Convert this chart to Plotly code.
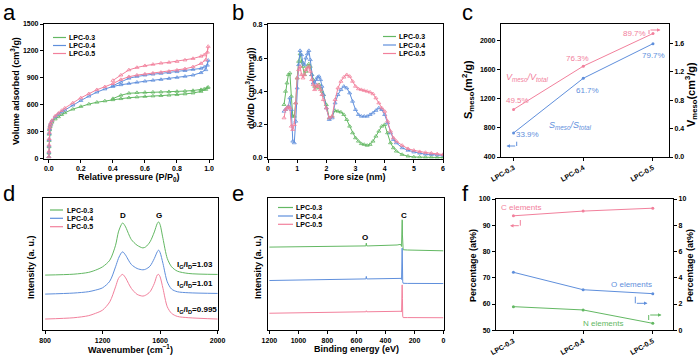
import plotly.graph_objects as go

# ---------------- data ----------------
SAMPLES = ["LPC-0.3", "LPC-0.4", "LPC-0.5"]

# (a) N2 isotherms
P_ADS = [0.0005, 0.001, 0.0015, 0.002, 0.003, 0.005, 0.008, 0.012, 0.02, 0.04, 0.06, 0.08, 0.1,
         0.15, 0.2, 0.25, 0.3, 0.35, 0.4, 0.45, 0.5, 0.55, 0.6, 0.65, 0.7, 0.75, 0.8, 0.85, 0.9,
         0.95, 0.98, 0.995]
V_ADS_03 = [15, 60, 130, 200, 270, 320, 355, 380, 405, 440, 465, 490, 510, 550, 580, 607, 627, 642,
            655, 667, 678, 686, 692, 697, 701, 706, 712, 720, 730, 748, 770, 795]
V_ADS_04 = [20, 70, 140, 210, 280, 330, 365, 390, 420, 465, 495, 520, 540, 595, 646, 695, 740, 775,
            803, 822, 837, 850, 862, 872, 881, 892, 904, 916, 930, 957, 990, 1095]
V_ADS_05 = [20, 80, 150, 220, 290, 340, 370, 395, 425, 475, 505, 535, 562, 620, 676, 722, 767, 800,
            835, 880, 912, 930, 942, 952, 961, 972, 985, 1000, 1022, 1060, 1100, 1250]
P_DES = [0.99, 0.97, 0.95, 0.9, 0.85, 0.8, 0.75, 0.7, 0.65, 0.6, 0.55, 0.5, 0.45, 0.4]
V_DES_03 = [790, 775, 768, 758, 752, 748, 745, 742, 740, 738, 735, 728, 705, 668]
V_DES_04 = [1040, 1020, 1005, 993, 980, 968, 958, 949, 940, 930, 915, 895, 850, 812]
V_DES_05 = [1185, 1155, 1140, 1115, 1098, 1082, 1072, 1063, 1050, 1035, 1015, 988, 930, 870]

# (b) pore size distribution
PORE = [0.55, 0.6, 0.65, 0.7, 0.75, 0.8, 0.85, 0.9, 0.95, 1.0,
        1.05, 1.1, 1.15, 1.2, 1.25, 1.3, 1.35, 1.4, 1.45, 1.5,
        1.55, 1.6, 1.65, 1.7, 1.75, 1.8, 1.85, 1.9, 2.0, 2.1,
        2.2, 2.3, 2.4, 2.5, 2.6, 2.7, 2.8, 2.9, 3.0, 3.1,
        3.2, 3.3, 3.4, 3.5, 3.6, 3.7, 3.8, 3.9, 4.0, 4.1,
        4.2, 4.3, 4.4, 4.6, 4.8, 5.0, 5.2, 5.4, 5.6, 5.8,
        6.0]
DV_03 = [0.32, 0.40, 0.45, 0.50, 0.51, 0.37, 0.25, 0.25, 0.33, 0.48,
         0.58, 0.625, 0.58, 0.55, 0.50, 0.52, 0.55, 0.565, 0.55, 0.50,
         0.47, 0.43, 0.42, 0.43, 0.44, 0.42, 0.40, 0.38, 0.32, 0.24,
         0.25, 0.285, 0.28, 0.275, 0.26, 0.23, 0.19, 0.15, 0.12, 0.10,
         0.085, 0.08, 0.075, 0.08, 0.10, 0.13, 0.16, 0.19, 0.20, 0.15,
         0.09, 0.06, 0.04, 0.02, 0.01, 0.005, 0.004, 0.003, 0.003, 0.002,
         0.002]
DV_04 = [0.28, 0.29, 0.30, 0.31, 0.36, 0.29, 0.10, 0.09, 0.22, 0.42,
         0.56, 0.645, 0.62, 0.57, 0.56, 0.60, 0.625, 0.645, 0.59, 0.50,
         0.45, 0.45, 0.47, 0.485, 0.49, 0.47, 0.43, 0.38, 0.30, 0.23,
         0.24, 0.33, 0.38, 0.41, 0.43, 0.42, 0.39, 0.34, 0.29, 0.26,
         0.25, 0.25, 0.25, 0.26, 0.27, 0.285, 0.30, 0.29, 0.26, 0.21,
         0.15, 0.11, 0.09, 0.06, 0.045, 0.035, 0.028, 0.022, 0.02, 0.017,
         0.015]
DV_05 = [0.24, 0.29, 0.30, 0.31, 0.30, 0.19, 0.17, 0.20, 0.33, 0.48,
         0.53, 0.55, 0.50, 0.48, 0.50, 0.53, 0.54, 0.55, 0.52, 0.47,
         0.44, 0.41, 0.43, 0.44, 0.43, 0.41, 0.38, 0.35, 0.30, 0.24,
         0.25, 0.35, 0.42, 0.46, 0.485, 0.50, 0.49, 0.46, 0.43, 0.415,
         0.41, 0.405, 0.40, 0.395, 0.385, 0.36, 0.33, 0.30, 0.28, 0.22,
         0.16, 0.12, 0.10, 0.075, 0.055, 0.045, 0.037, 0.032, 0.028, 0.024,
         0.02]

# (c) mesopore area / volume
S_MESO = [731, 1483, 1959]
V_MESO = [0.67, 1.28, 1.74]
S_RATIO = ["33.9%", "61.7%", "79.7%"]
V_RATIO = ["49.5%", "76.3%", "89.7%"]

# (d) Raman
WAVENUM = [800, 1000, 1100, 1150, 1200, 1250, 1290, 1310, 1330, 1340, 1360, 1380, 1400, 1440,
           1480, 1500, 1530, 1560, 1580, 1590, 1600, 1620, 1650, 1680, 1720, 1800, 2000]
RAMAN_03 = [41.6, 42.3, 43.6, 45.3, 47.9, 52.9, 64.2, 74.3, 79.8, 81.1, 78.1, 73.0, 68.5, 64.2,
            62.2, 63.0, 66.8, 74.3, 80.6, 81.9, 79.8, 69.3, 54.2, 47.9, 44.6, 42.8, 42.1]
RAMAN_04 = [27.2, 28.0, 29.0, 30.2, 32.0, 37.0, 47.9, 54.2, 58.4, 59.2, 56.7, 52.9, 49.6, 46.6,
            45.6, 46.1, 48.4, 54.2, 59.2, 60.5, 58.7, 50.4, 36.5, 31.0, 29.0, 28.2, 27.7]
RAMAN_05 = [8.3, 9.3, 10.8, 12.6, 15.1, 21.4, 32.7, 39.0, 41.6, 42.1, 39.5, 35.3, 31.5, 27.0,
            25.7, 26.4, 29.0, 35.3, 41.6, 42.1, 40.3, 31.5, 17.6, 12.6, 10.3, 9.3, 8.3]
IGID = ["1.03", "1.01", "0.995"]

# (e) XPS survey
ENERGY = [1200, 1100, 1000, 900, 800, 700, 600, 545, 535, 532, 529, 520, 450, 400, 350, 320, 300,
          293, 289, 286, 285, 284, 283, 281, 278, 250, 200, 100, 0]
XPS_03 = [62.8, 62.9, 63.0, 63.1, 63.2, 63.4, 63.5, 63.6, 63.7, 65.8, 63.7, 63.7, 63.8, 63.9, 64.1,
          64.4, 64.8, 64.6, 63.3, 72.0, 83.5, 83.0, 72.0, 62.0, 60.8, 60.6, 60.4, 60.2, 60.0]
XPS_04 = [37.5, 37.6, 37.8, 38.0, 38.1, 38.3, 38.5, 38.6, 38.7, 40.6, 38.7, 38.7, 38.8, 38.9, 39.0,
          39.2, 39.3, 39.1, 38.3, 50.0, 62.0, 61.5, 50.0, 36.5, 35.4, 35.3, 35.3, 35.2, 35.2]
XPS_05 = [12.7, 12.8, 13.0, 13.1, 13.3, 13.5, 13.6, 13.7, 13.8, 14.6, 13.8, 13.8, 13.9, 14.0, 14.1,
          14.3, 14.4, 14.2, 13.6, 24.0, 34.2, 33.8, 24.0, 10.5, 9.4, 9.4, 9.3, 9.3, 9.3]

# (f) elemental content
C_AT = [93.6, 95.4, 96.5]
O_AT = [4.42, 3.09, 2.79]
N_AT = [1.80, 1.55, 0.53]

# ---------------- style ----------------
W, H = 700, 359
GREEN = "#63b863"
BLUE = "#5f8fdc"
PINK = "#f2809c"
COLORS = [GREEN, BLUE, PINK]
FONT = "Liberation Sans, Arial, sans-serif"


def px(x):
    return x / W


def py(y):
    return 1 - y / H


def axis(domain, anchor, rng, **kw):
    d = dict(domain=domain, anchor=anchor, range=rng, showline=True, linecolor="black",
             linewidth=1.2, mirror=True, ticks="outside", ticklen=3, tickwidth=1,
             tickcolor="black", showgrid=False, zeroline=False, automargin=False,
             tickfont=dict(family=FONT, size=7, color="black", weight="bold"))
    d.update(kw)
    return d


fig = go.Figure()

# (a)
for vads, vdes, c in zip([V_ADS_03, V_ADS_04, V_ADS_05], [V_DES_03, V_DES_04, V_DES_05], COLORS):
    fig.add_trace(go.Scatter(x=P_ADS + P_DES, y=vads + vdes, mode="lines+markers",
                             line=dict(color=c, width=1),
                             marker=dict(symbol="triangle-up-open", size=3.5, color=c,
                                         line=dict(width=0.8)),
                             xaxis="x", yaxis="y", showlegend=False))
# (b)
for dv, c in zip([DV_03, DV_04, DV_05], COLORS):
    fig.add_trace(go.Scatter(x=PORE, y=dv, mode="lines+markers", line=dict(color=c, width=1),
                             marker=dict(symbol="triangle-up-open", size=3.5, color=c,
                                         line=dict(width=0.8)),
                             xaxis="x2", yaxis="y2", showlegend=False))
# (c)
fig.add_trace(go.Scatter(x=SAMPLES, y=S_MESO, mode="lines+markers", line=dict(color=BLUE, width=1),
                         marker=dict(size=3, color=BLUE), xaxis="x3", yaxis="y3", showlegend=False))
fig.add_trace(go.Scatter(x=SAMPLES, y=V_MESO, mode="lines+markers", line=dict(color=PINK, width=1),
                         marker=dict(size=3, color=PINK), xaxis="x3", yaxis="y4", showlegend=False))
# (d)
for r, c in zip([RAMAN_03, RAMAN_04, RAMAN_05], COLORS):
    fig.add_trace(go.Scatter(x=WAVENUM, y=r, mode="lines", line=dict(color=c, width=1, shape="spline",
                                                                      smoothing=0.8),
                             xaxis="x4", yaxis="y5", showlegend=False))
# (e)
for s, c in zip([XPS_03, XPS_04, XPS_05], COLORS):
    fig.add_trace(go.Scatter(x=ENERGY, y=s, mode="lines", line=dict(color=c, width=1),
                             xaxis="x5", yaxis="y6", showlegend=False))
# (f)
fig.add_trace(go.Scatter(x=SAMPLES, y=C_AT, mode="lines+markers", line=dict(color=PINK, width=1),
                         marker=dict(size=3, color=PINK), xaxis="x6", yaxis="y7", showlegend=False))
fig.add_trace(go.Scatter(x=SAMPLES, y=O_AT, mode="lines+markers", line=dict(color=BLUE, width=1),
                         marker=dict(size=3, color=BLUE), xaxis="x6", yaxis="y8", showlegend=False))
fig.add_trace(go.Scatter(x=SAMPLES, y=N_AT, mode="lines+markers", line=dict(color=GREEN, width=1),
                         marker=dict(size=3, color=GREEN), xaxis="x6", yaxis="y8", showlegend=False))

TOP = [py(158.5), py(24)]
BOT = [py(330), py(198)]

layout = dict(
    template="none",
    width=W, height=H, margin=dict(l=0, r=0, t=0, b=0, autoexpand=False),
    paper_bgcolor="white", plot_bgcolor="white", showlegend=False,
    font=dict(family=FONT, color="black"),
    xaxis=axis([px(44), px(213)], "y", [-0.03, 1.025], dtick=0.2, tickformat=".1f"),
    yaxis=axis(TOP, "x", [0, 1500], dtick=300),
    xaxis2=axis([px(268), px(443)], "y2", [0, 6], dtick=1),
    yaxis2=axis(TOP, "x2", [-0.004, 0.805], tickvals=[0, 0.2, 0.4, 0.6, 0.8], tickformat=".1f"),
    xaxis3=axis([px(501), px(669)], "y3", [-0.18, 2.23], type="category", tickangle=-30),
    yaxis3=axis([py(157), py(24)], "x3", [400, 2230], tickvals=[400, 800, 1200, 1600, 2000],
                mirror=False),
    yaxis4=axis([py(157), py(24)], "x3", [0, 1.874], overlaying="y3", side="right",
                tickvals=[0, 0.4, 0.8, 1.2, 1.6], tickformat=".1f", mirror=False),
    xaxis4=axis([px(43), px(218)], "y5", [785, 2003], tickvals=[800, 1200, 1600, 2000]),
    yaxis5=axis(BOT, "x4", [0, 100], ticks="", showticklabels=False),
    xaxis5=axis([px(267.5), px(443.5)], "y6", [1213, 0], tickvals=[1200, 1000, 800, 600, 400, 200, 0]),
    yaxis6=axis(BOT, "x5", [0, 100], ticks="", showticklabels=False),
    xaxis6=axis([px(496), px(673)], "y7", [-0.25, 2.29], type="category", tickangle=-30),
    yaxis7=axis([py(330.3), py(199)], "x6", [50, 100], dtick=10, mirror=False),
    yaxis8=axis([py(330.3), py(199)], "x6", [0, 10], dtick=2, overlaying="y7", side="right",
                mirror=False),
)

ann = []
shapes = []


def text(x, y, s, size=9, color="black", bold=True, angle=0, xanchor="center", italic=False,
         xref="paper", yref="paper"):
    if xref == "paper":
        x = px(x)
    if yref == "paper":
        y = py(y)
    ann.append(dict(x=x, y=y, xref=xref, yref=yref, text=s, showarrow=False, textangle=angle,
                    xanchor=xanchor, yanchor="middle", borderpad=0,
                    font=dict(family=FONT, size=size, color=color,
                              weight="bold" if bold else "normal",
                              style="italic" if italic else "normal")))


def legend(x0, x1, xt, ys):
    for y, name, c in zip(ys, SAMPLES, COLORS):
        shapes.append(dict(type="line", xref="paper", yref="paper", x0=px(x0), x1=px(x1),
                           y0=py(y), y1=py(y), line=dict(color=c, width=1.2)))
        text(xt, y, name, size=7, xanchor="left")


def elbow(xv, yv0, yv1, xh, color):
    # vertical stub then horizontal arrow
    shapes.append(dict(type="line", xref="paper", yref="paper", x0=px(xv), x1=px(xv),
                       y0=py(yv0), y1=py(yv1), line=dict(color=color, width=1)))
    ann.append(dict(xref="paper", yref="paper", x=px(xh), y=py(yv1), ax=xv - xh, ay=0,
                    text="", showarrow=True, arrowhead=2,
                    arrowsize=0.7, arrowwidth=1, arrowcolor=color))


# panel letters
for lx, ly, s in [(2, 12, "a"), (231, 12, "b"), (461, 12, "c"),
                  (2, 193, "d"), (231, 193, "e"), (461, 193, "f")]:
    text(lx, ly, s, size=22, bold=False, xanchor="left")

# axis titles
text(15, 91, "Volume adsorbed (cm<sup>3</sup>/g)", size=9, angle=-90)
text(129, 177, "Relative pressure (P/P<sub>0</sub>)", size=9)
text(250, 88, "dV/dD (cm<sup>3</sup>/(nm·g))", size=9, angle=-90)
text(355, 177, "Pore size (nm)", size=9)
text(468, 90, "S<sub>meso</sub>(m<sup>2</sup>/g)", size=11, angle=-90)
text(691, 95, "V<sub>meso</sub>(cm<sup>3</sup>/g)", size=11, angle=-90)
text(31, 267, "Intensity (a. u.)", size=9, angle=-90)
text(130, 349, "Wavenumber (cm<sup>−1</sup>)", size=9)
text(258, 267, "Intensity (a. u.)", size=9, angle=-90)
text(356, 349, "Binding energy (eV)", size=9)
text(473, 266, "Percentage (at%)", size=9, angle=-90)
text(690, 266, "Percentage (at%)", size=9, angle=-90)

# legends
legend(53, 66, 68, [37.5, 45.5, 53.5])
legend(383, 396, 398, [36.5, 45, 53.5])
legend(50, 63, 66, [210, 218.3, 226.7])
legend(278, 293, 295, [207.5, 216, 224.3])

# (c) annotations (pixel positions)
for (xx, yy), s in zip([(517, 101), (577, 58.3), (634, 33.3)], V_RATIO):
    text(xx, yy, s, size=8, color=PINK, bold=False)
for (xx, yy), s in zip([(527, 134.3), (587, 90.7), (653, 56)], S_RATIO):
    text(xx, yy, s, size=8, color=BLUE, bold=False)
text(505, 77.5, "V<sub>meso</sub>/V<sub>total</sub>", size=9, color=PINK, bold=False,
     italic=True, xanchor="left")
text(548.3, 125.5, "S<sub>meso</sub>/S<sub>total</sub>", size=9, color=BLUE, bold=False,
     italic=True, xanchor="left")
elbow(516.7, 141.7, 146, 506.5, BLUE)
elbow(649, 34, 30, 660.5, PINK)

# (d) annotations
text(122.6, 215.7, "D", size=8)
text(158.6, 215.7, "G", size=8)
for yy, s in zip([265, 284.3, 310], IGID):
    text(175.5, yy, "I<sub>G</sub>/I<sub>D</sub>=" + s, size=8, xanchor="left")

# (e) annotations
text(365.3, 237.7, "O", size=8)
text(403.7, 215.7, "C", size=8)

# (f) annotations
text(500.3, 207.7, "C elements", size=8, color=PINK, bold=False, xanchor="left")
text(610.3, 284.3, "O elements", size=8, color=BLUE, bold=False, xanchor="left")
text(582, 323.3, "N elements", size=8, color=GREEN, bold=False, xanchor="left")
elbow(520.3, 220, 225.7, 510, PINK)
elbow(635.3, 296.7, 303.3, 647.5, BLUE)
elbow(648.7, 320, 315, 661.5, GREEN)

layout["annotations"] = ann
layout["shapes"] = shapes
fig.update_layout(**layout)
fig.write_html("out.html", config={"displayModeBar": False},
               post_script="document.body.style.margin='0';document.body.style.overflow='hidden';")
